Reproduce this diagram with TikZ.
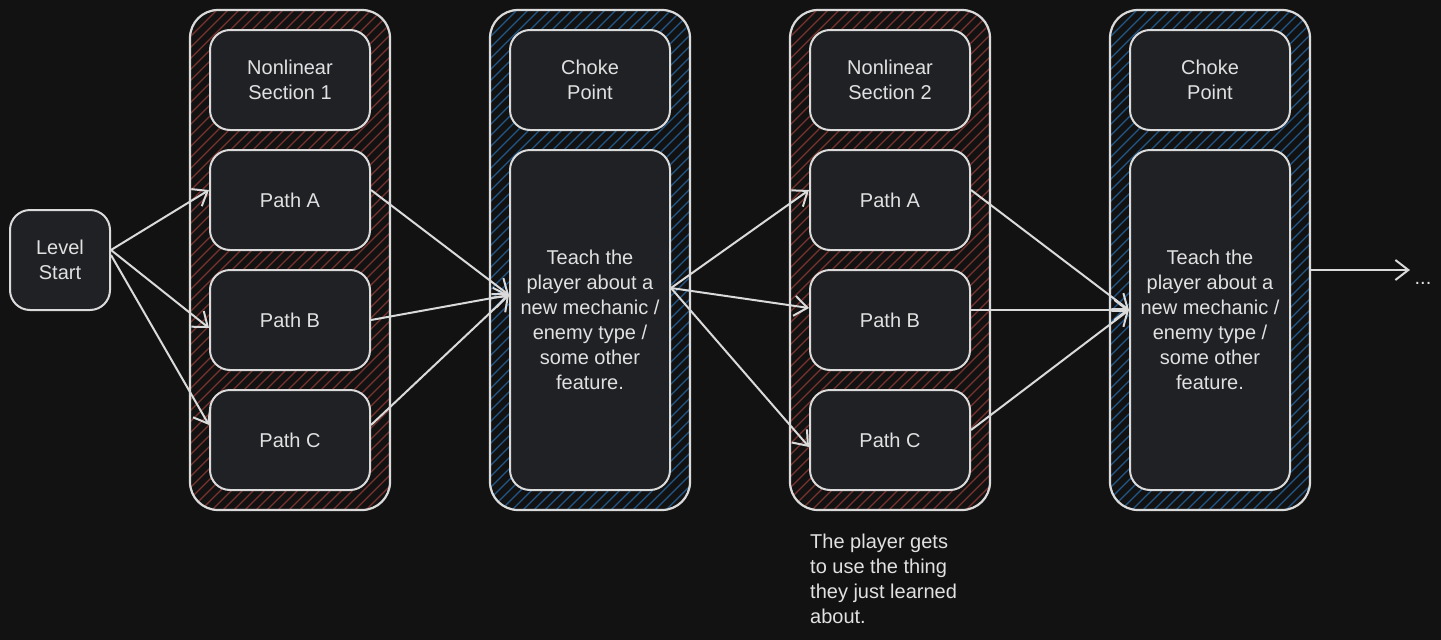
\documentclass[tikz,border=0pt]{standalone}
\usepackage{fontspec}
\setmainfont{Liberation Sans}
\usetikzlibrary{arrows.meta}
\definecolor{bg}{RGB}{18,18,18}
\definecolor{nodefill}{RGB}{32,33,37}
\definecolor{stroke}{RGB}{218,218,218}
\definecolor{txt}{RGB}{225,225,225}
\definecolor{hred}{RGB}{122,52,48}
\definecolor{hblue}{RGB}{33,88,136}
\begin{document}
\begin{tikzpicture}[x=1pt,y=-1pt,
  box/.style={draw=stroke, fill=nodefill, line width=2pt, rounded corners=20pt,
    minimum width=160pt, minimum height=100pt, text=txt, align=center,
    font=\fontsize{20}{25}\selectfont, inner sep=0pt},
  group/.style={draw=stroke, line width=2.2pt, rounded corners=28pt,
    minimum width=200pt, minimum height=500pt, inner sep=0pt,
    path picture={\foreach \k in {-605,-594,...,110}{
      \draw[#1, line width=1.1pt] ([xshift=\k pt,yshift=-260pt]path picture bounding box.center) -- ++(520,-520);}}},
  arr/.style={draw=stroke, line width=2pt, -{Straight Barb[length=13pt,width=20pt,line width=2pt]}},
  lbl/.style={text=txt, font=\fontsize{20}{25}\selectfont, inner sep=0pt}
]
\fill[bg] (0,0) rectangle (1441,640);
\useasboundingbox (0,0) rectangle (1441,640);

% groups
\node[group=hred]  (g1) at (290,260) {};
\node[group=hblue] (g2) at (590,260) {};
\node[group=hred]  (g3) at (890,260) {};
\node[group=hblue] (g4) at (1210,260) {};

% level start
\node[box, minimum width=100pt, minimum height=100pt] (lvl) at (60,260) {Level\\Start};

% column 1
\node[box] (ns1) at (290,80)  {Nonlinear\\Section 1};
\node[box] (pa)  at (290,200) {Path A};
\node[box] (pb)  at (290,320) {Path B};
\node[box] (pc)  at (290,440) {Path C};

% column 2
\node[box] (cp1) at (590,80) {Choke\\Point};
\node[box, minimum height=340pt] (teach) at (590,320) {Teach the\\player about a\\new mechanic /\\enemy type /\\some other\\feature.};

% column 3
\node[box] (ns2) at (890,80)  {Nonlinear\\Section 2};
\node[box] (pa2) at (890,200) {Path A};
\node[box] (pb2) at (890,320) {Path B};
\node[box] (pc2) at (890,440) {Path C};

% column 4
\node[box] (cp2) at (1210,80) {Choke\\Point};
\node[box, minimum height=340pt] (teach2) at (1210,320) {Teach the\\player about a\\new mechanic /\\enemy type /\\some other\\feature.};

% end
\coordinate (endpt) at (1410,270);
\node[lbl, anchor=base] (dots) at (1423,284) {...};

% note
\node[lbl, anchor=north west, align=left] (note) at (810,534) {The player gets\\to use the thing\\they just learned\\about.};

% arrows
\draw[arr] ([yshift=10pt]lvl.east) -- ([yshift=10pt]pa.west);
\draw[arr] ([yshift=10pt]lvl.east) -- ([yshift=-8pt]pb.west);
\draw[arr] ([yshift=5pt]lvl.east) -- ([yshift=15pt]pc.west);

\draw[arr] ([yshift=10pt]pa.east) -- ([yshift=25pt]teach.west);
\draw[arr] (pb.east) -- ([yshift=25pt]teach.west);
\draw[arr] ([yshift=15pt]pc.east) -- ([yshift=25pt]teach.west);

\draw[arr] ([yshift=32pt]teach.east) -- ([yshift=10pt]pa2.west);
\draw[arr] ([yshift=32pt]teach.east) -- ([yshift=12pt]pb2.west);
\draw[arr] ([yshift=32pt]teach.east) -- ([yshift=-7pt]pc2.west);

\draw[arr] ([yshift=10pt]pa2.east) -- ([yshift=10pt]teach2.west);
\draw[arr] ([yshift=10pt]pb2.east) -- ([yshift=10pt]teach2.west);
\draw[arr] ([yshift=10pt]pc2.east) -- ([yshift=10pt]teach2.west);

\draw[arr] ([yshift=-10pt]g4.east) -- (endpt);
\end{tikzpicture}
\end{document}
